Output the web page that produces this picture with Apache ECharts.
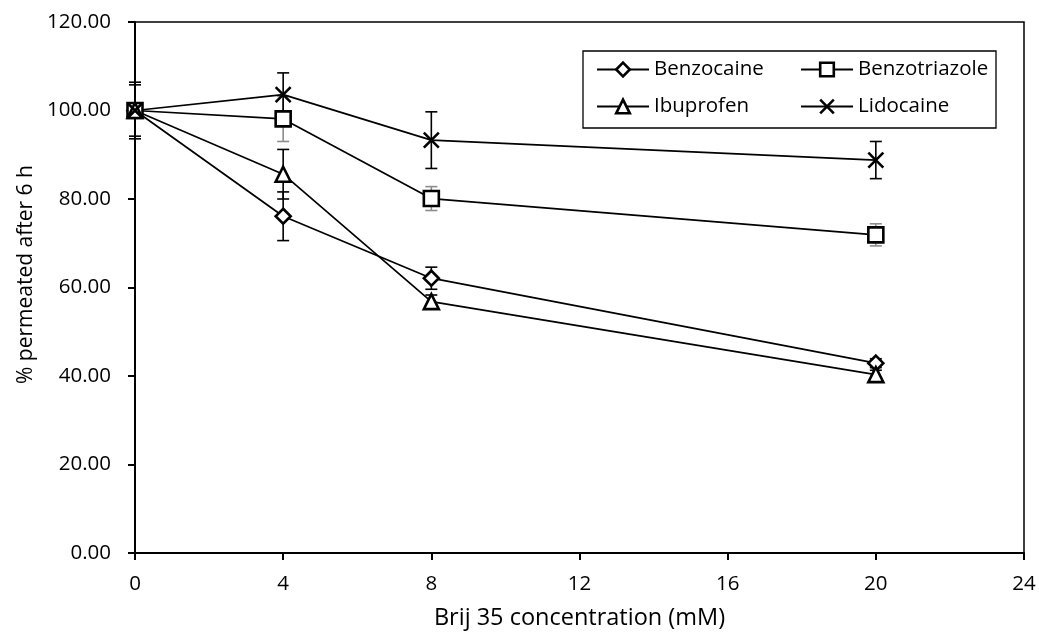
<!DOCTYPE html>
<html>
<head>
<meta charset="utf-8">
<script src="https://cdn.jsdelivr.net/npm/echarts@6/dist/echarts.min.js"></script>
<style>
    html, body { margin: 0; padding: 0; background: #fff; }
    #chart { width: 1039px; height: 633px; }
</style>
</head>
<body>
<div id="chart"></div>
<script>
    // concentrations (mM)
    var conc = [0, 4, 8, 20];
    var xTicks = [0, 4, 8, 12, 16, 20, 24];
    var yTicks = [0, 20, 40, 60, 80, 100, 120];

    // % permeated after 6 h
    var benzocaine = [100, 76.1, 62.1, 42.9];
    var benzotriazole = [100, 98.1, 80.1, 71.9];
    var ibuprofen = [100, 85.6, 56.8, 40.3];
    var lidocaine = [100, 103.6, 93.3, 88.8];

    // error bars (+/-)
    var benzocaineErr = [6.4, 5.5, 2.5, 1.0];
    var benzotriazoleErr = [0, 5.1, 2.7, 2.5];
    var ibuprofenErr = [0, 5.6, 1.5, 1.0];
    var lidocaineErr = [5.8, 4.9, 6.4, 4.2];

    var FONT = 'Open Sans';
    var chart = echarts.init(document.getElementById('chart'));

    function pairs(ys) {
        var out = [];
        for (var i = 0; i < conc.length; i++) out.push([conc[i], ys[i]]);
        return out;
    }
    function errData(ys, es) {
        var out = [];
        for (var i = 0; i < conc.length; i++) out.push([conc[i], ys[i], es[i]]);
        return out;
    }

    function errSeries(name, ys, es, color) {
        return {
            name: name,
            type: 'custom',
            z: 1,
            silent: true,
            data: errData(ys, es),
            renderItem: function (params, api) {
                var x = api.value(0), y = api.value(1), e = api.value(2);
                if (!e) return null;
                var hi = api.coord([x, y + e]);
                var lo = api.coord([x, y - e]);
                var st = { stroke: color, lineWidth: 1.6 };
                return {
                    type: 'group',
                    children: [
                        { type: 'line', shape: { x1: hi[0], y1: hi[1], x2: lo[0], y2: lo[1] }, style: st },
                        { type: 'line', shape: { x1: hi[0] - 6, y1: hi[1], x2: hi[0] + 6, y2: hi[1] }, style: st },
                        { type: 'line', shape: { x1: lo[0] - 6, y1: lo[1], x2: lo[0] + 6, y2: lo[1] }, style: st }
                    ]
                };
            }
        };
    }

    function lineSeries(name, ys, symbol, size) {
        return {
            name: name,
            type: 'line',
            z: 3,
            data: pairs(ys),
            symbol: symbol,
            symbolSize: size,
            showAllSymbol: true,
            lineStyle: { color: '#000', width: 1.7 },
            itemStyle: { color: '#fff', borderColor: '#000', borderWidth: 2.6 },
            emphasis: { disabled: true }
        };
    }

    var crossPath = 'path://M0,0L10,10M10,0L0,10';

    function legendItem(name, left, top) {
        return {
            data: [name],
            left: left,
            top: top,
            orient: 'vertical',
            itemWidth: 52,
            itemHeight: 17,
            itemGap: 5,
            padding: 0,
            selectedMode: false,
            itemStyle: { borderWidth: 2.6 },
            textStyle: { fontFamily: FONT, fontSize: 20.5, color: '#000' }
        };
    }

    chart.setOption({
        backgroundColor: '#fff',
        animation: false,
        grid: {
            left: 135, right: 15, top: 22, bottom: 80,
            show: true, borderColor: '#000', borderWidth: 1.5,
            containLabel: false,
            outerBoundsMode: 'none'
        },
        legend: [
            legendItem('Benzocaine', 596, 59),
            legendItem('Ibuprofen', 596, 96),
            legendItem('Benzotriazole', 800, 59),
            legendItem('Lidocaine', 800, 96)
        ],
        graphic: [{
            type: 'rect',
            shape: { x: 583, y: 51, width: 413, height: 77 },
            style: { fill: '#fff', stroke: '#000', lineWidth: 1.3 },
            z: 0
        }],
        xAxis: {
            type: 'value',
            min: xTicks[0],
            max: xTicks[xTicks.length - 1],
            interval: 4,
            name: 'Brij 35 concentration (mM)',
            nameLocation: 'middle',
            nameGap: 53,
            nameTextStyle: { fontFamily: FONT, fontSize: 23.5, color: '#000' },
            axisLine: { lineStyle: { color: '#000', width: 2 } },
            axisTick: { show: true, length: 7, lineStyle: { color: '#000', width: 2 } },
            axisLabel: { fontFamily: FONT, fontSize: 20.5, color: '#000', margin: 21 },
            splitLine: { show: false }
        },
        yAxis: {
            type: 'value',
            min: yTicks[0],
            max: yTicks[yTicks.length - 1],
            interval: 20,
            name: '% permeated after 6 h',
            nameLocation: 'middle',
            nameRotate: 90,
            nameGap: 98,
            nameTextStyle: { fontFamily: FONT, fontSize: 21, color: '#000', padding: [0, 0, 0, 26] },
            axisLine: { show: true, lineStyle: { color: '#000', width: 2 } },
            axisTick: { show: true, length: 7, lineStyle: { color: '#000', width: 2 } },
            axisLabel: {
                fontFamily: FONT, fontSize: 20.5, color: '#000', margin: 24,
                formatter: function (v) { return v.toFixed(2); }
            },
            splitLine: { show: false }
        },
        series: [
            errSeries('Benzocaine err', benzocaine, benzocaineErr, '#000'),
            errSeries('Benzotriazole err', benzotriazole, benzotriazoleErr, '#8c8c8c'),
            errSeries('Ibuprofen err', ibuprofen, ibuprofenErr, '#000'),
            errSeries('Lidocaine err', lidocaine, lidocaineErr, '#000'),
            lineSeries('Benzocaine', benzocaine, 'diamond', 15),
            lineSeries('Benzotriazole', benzotriazole, 'rect', 15),
            lineSeries('Ibuprofen', ibuprofen, 'triangle', 15),
            lineSeries('Lidocaine', lidocaine, crossPath, 15)
        ]
    });
</script>
</body>
</html>
